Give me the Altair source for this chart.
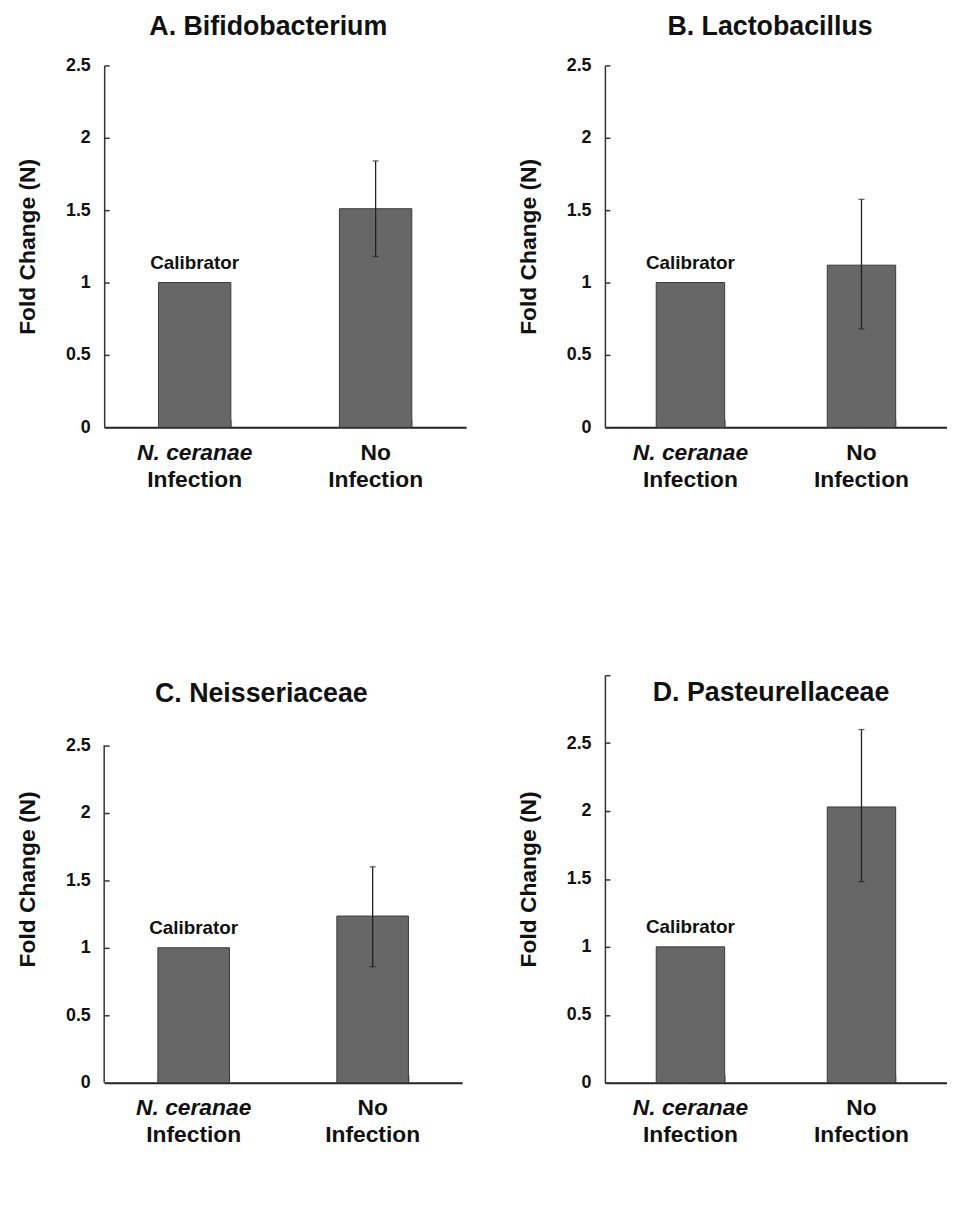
import altair as alt
import pandas as pd

FONT = "Liberation Sans"

categories = ["N. ceranae Infection", "No Infection"]
line1 = ["N. ceranae", "No"]
line2 = ["Infection", "Infection"]
style1 = ["italic", "normal"]
calib = ["Calibrator", ""]

titles = ["A. Bifidobacterium", "B. Lactobacillus", "C. Neisseriaceae", "D. Pasteurellaceae"]
means_A = [1.0, 1.51]
lo_A = [1.0, 1.18]
hi_A = [1.0, 1.84]
means_B = [1.0, 1.12]
lo_B = [1.0, 0.68]
hi_B = [1.0, 1.575]
means_C = [1.0, 1.235]
lo_C = [1.0, 0.86]
hi_C = [1.0, 1.60]
means_D = [1.0, 2.03]
lo_D = [1.0, 1.48]
hi_D = [1.0, 2.60]

ticks_25 = [0, 0.5, 1, 1.5, 2, 2.5]
ticks_3 = [0, 0.5, 1, 1.5, 2, 2.5, 3]


def panel(title, means, los, his, width, height, ymax, tick_vals, title_dx, title_offset,
          show_domain=True, domain_top=2.5):
    df = pd.DataFrame({
        "cat": categories, "mean": means, "lo": los, "hi": his,
        "line1": line1, "line2": line2, "style1": style1, "calib": calib,
    })
    x = alt.X("cat:N", sort=categories,
              scale=alt.Scale(paddingInner=0.6, paddingOuter=0.3),
              axis=alt.Axis(title=None, labels=False, domainWidth=2, domainColor="#222222",
                            tickBand="extent", tickSize={"expr": "-8"}, tickColor="#999999",
                            tickWidth=1))
    y_axis = alt.Axis(title="Fold Change (N)", values=tick_vals, format="~g",
                      labelExpr="datum.value > 2.6 ? '' : datum.label",
                      grid=False, domain=show_domain, domainColor="#333333", domainWidth=1.5,
                      tickSize={"expr": "-5"}, tickColor="#333333", tickWidth=1.5,
                      labelPadding=19, labelFontSize=18, labelFont=FONT, labelFontWeight="bold",
                      labelColor="#111111",
                      titleFont=FONT, titleFontSize=23, titleFontWeight="bold", titlePadding=26,
                      titleColor="#111111")
    yscale = alt.Scale(domain=[0, ymax], nice=False, zero=True)
    base = alt.Chart(df).encode(x=x)
    bars = base.mark_bar(color="#676767", stroke="#3a3a3a", strokeWidth=1).encode(
        y=alt.Y("mean:Q", scale=yscale, axis=y_axis))
    errdf = base.transform_filter("datum.hi > datum.lo")
    err = errdf.mark_rule(color="#222222", strokeWidth=1.3).encode(
        y=alt.Y("lo:Q", scale=yscale, axis=y_axis), y2="hi:Q")
    cap_hi = errdf.mark_tick(color="#222222", size=6, thickness=1.3).encode(
        y=alt.Y("hi:Q", scale=yscale, axis=y_axis))
    cap_lo = errdf.mark_tick(color="#222222", size=6, thickness=1.3).encode(
        y=alt.Y("lo:Q", scale=yscale, axis=y_axis))
    cal = base.mark_text(font=FONT, fontSize=19, fontWeight="bold", dy=-20, color="#111111").encode(
        y=alt.Y("mean:Q", scale=yscale, axis=y_axis), text="calib:N")
    lab1i = base.transform_filter("datum.style1 == 'italic'").mark_text(
        font=FONT, fontSize=23, fontWeight="bold", fontStyle="italic", baseline="middle",
        color="#111111").encode(y=alt.value(height + 26), text="line1:N")
    lab1n = base.transform_filter("datum.style1 != 'italic'").mark_text(
        font=FONT, fontSize=23, fontWeight="bold", baseline="middle",
        color="#111111").encode(y=alt.value(height + 26), text="line1:N")
    lab2 = base.mark_text(font=FONT, fontSize=23, fontWeight="bold", baseline="middle",
                          color="#111111").encode(
        y=alt.value(height + 53), text="line2:N")
    layers = [bars, err, cap_hi, cap_lo, cal, lab1i, lab1n, lab2]
    if not show_domain:
        ddf = pd.DataFrame({"y0": [0.0], "y1": [domain_top]})
        dom = alt.Chart(ddf).mark_rule(color="#333333", strokeWidth=1.5).encode(
            x=alt.value(0), y=alt.Y("y0:Q", scale=yscale, axis=y_axis), y2="y1:Q")
        layers.append(dom)
    return alt.layer(*layers).properties(
        width=width, height=height,
        title=alt.TitleParams(title, font=FONT, fontSize=27, fontWeight="bold", color="#111111",
                              anchor="middle", frame="group", dx=title_dx, offset=title_offset),
    )


pA = panel(titles[0], means_A, lo_A, hi_A, 365, 365, 2.5, ticks_25, -17, 16)
pB = panel(titles[1], means_B, lo_B, hi_B, 345, 365, 2.5, ticks_25, -6, 16)
pC = panel(titles[2], means_C, lo_C, hi_C, 361, 411, 3.02, ticks_25, -22, -33,
           show_domain=False, domain_top=2.5)
pD = panel(titles[3], means_D, lo_D, hi_D, 345, 411, 3.0, ticks_3, -5, -33)

row1 = alt.hconcat(pA, pB, spacing=51)
row2 = alt.hconcat(pC, pD, spacing=55)
chart = alt.vconcat(row1, row2, spacing=184).properties(
    padding={"left": 8, "top": 0, "right": 0, "bottom": 0}
).configure(font=FONT, background="white").configure_view(stroke=None)

chart.save("out.html", embed_options={"renderer": "svg", "actions": False})
